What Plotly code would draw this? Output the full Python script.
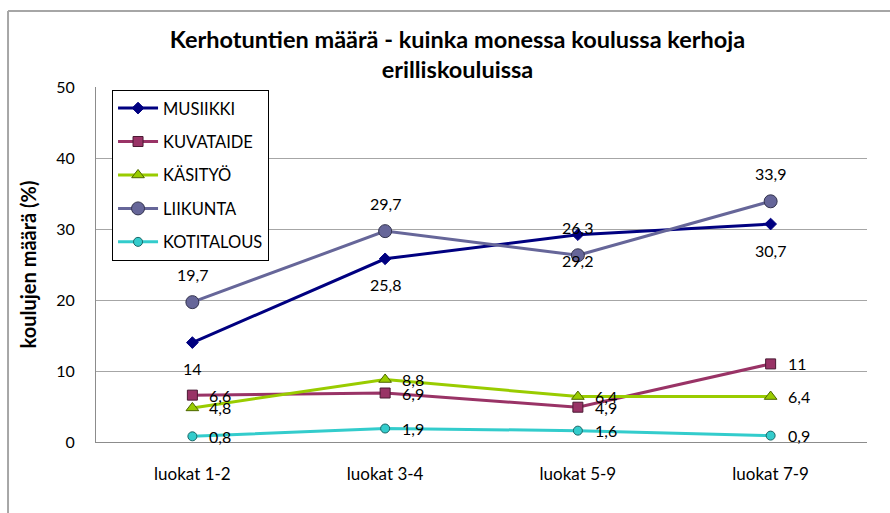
import plotly.graph_objects as go

categories = ["luokat 1-2", "luokat 3-4", "luokat 5-9", "luokat 7-9"]
musiikki = [14, 25.8, 29.2, 30.7]
kuvataide = [6.6, 6.9, 4.9, 11]
kasityo = [4.8, 8.8, 6.4, 6.4]
liikunta = [19.7, 29.7, 26.3, 33.9]
kotitalous = [0.8, 1.9, 1.6, 0.9]

series_names = ["MUSIIKKI", "KUVATAIDE", "KÄSITYÖ", "LIIKUNTA", "KOTITALOUS"]
series_values = [musiikki, kuvataide, kasityo, liikunta, kotitalous]

FONT = "Lato, Liberation Sans, sans-serif"

styles = [
    dict(color="#000080", symbol="diamond", size=9, mfill="#000080", mline="#000080", label="below"),
    dict(color="#993366", symbol="square", size=10, mfill="#993366", mline="#4a1a33", label="right"),
    dict(color="#99cc00", symbol="triangle-up", size=11, mfill="#99cc00", mline="#4d6600", label="right"),
    dict(color="#666699", symbol="circle", size=13, mfill="#666699", mline="#33334d", label="above"),
    dict(color="#33cccc", symbol="circle", size=9, mfill="#33cccc", mline="#1a6666", label="right"),
]

fig = go.Figure()
annotations = []
for name, vals, st in zip(series_names, series_values, styles):
    fig.add_trace(go.Scatter(
        x=categories, y=vals, name=name, mode="lines+markers",
        legendgroup=name,
        line=dict(color=st["color"], width=3),
        marker=dict(symbol=st["symbol"], size=st["size"], color=st["mfill"],
                    line=dict(color=st["mline"], width=1)),
    ))
    for c, v in zip(categories, vals):
        txt = ("%g" % v).replace(".", ",")
        if st["label"] == "right":
            annotations.append(dict(x=c, y=v, text=txt, showarrow=False, xanchor="left",
                                    yanchor="middle", xshift=15, yshift=0))
        elif st["label"] == "below":
            annotations.append(dict(x=c, y=v, text=txt, showarrow=False, xanchor="center",
                                    yanchor="middle", yshift=-26))
        else:
            annotations.append(dict(x=c, y=v, text=txt, showarrow=False, xanchor="center",
                                    yanchor="middle", yshift=28))

for a in annotations:
    a["font"] = dict(family=FONT, size=16, color="#000000")

shapes = [
    dict(type="line", xref="paper", yref="paper", x0=-0.1141, x1=1.1, y0=1.2141, y1=1.2141,
         line=dict(color="#a6a6a6", width=2)),
    dict(type="line", xref="paper", yref="paper", x0=-0.1141, x1=-0.1141, y0=1.2141, y1=-0.3,
         line=dict(color="#a6a6a6", width=2)),
]

fig.update_layout(
    width=890, height=513,
    margin=dict(l=96, r=23, t=87, b=71),
    paper_bgcolor="white", plot_bgcolor="white",
    font=dict(family=FONT, size=16, color="#000000"),
    title=dict(text="<b>Kerhotuntien määrä - kuinka monessa koulussa kerhoja<br>erilliskouluissa</b>",
               x=0.514, xanchor="center", y=0.907, yanchor="top",
               font=dict(family=FONT, size=23.5, color="#000000")),
    xaxis=dict(range=[-0.5, 3.5], showgrid=False, showline=True, linecolor="#8c8c8c", linewidth=1,
               ticks="", ticklabelstandoff=17, tickfont=dict(size=17), zeroline=False),
    yaxis=dict(range=[0, 50], dtick=10, showgrid=True, gridcolor="#a6a6a6", gridwidth=1,
               showline=True, linecolor="#8c8c8c", linewidth=1, zeroline=False,
               ticks="", ticklabelstandoff=17, tickfont=dict(size=16),
               title=dict(text="<b>koulujen määrä (%)</b>", font=dict(size=20), standoff=14)),
    legend=dict(x=0.0208, y=0.992, xanchor="left", yanchor="top",
                bgcolor="white", bordercolor="#000000", borderwidth=1,
                font=dict(size=16.5), tracegroupgap=9, itemwidth=40),
    showlegend=True,
    annotations=annotations,
    shapes=shapes,
)

fig.write_html("out.html")
